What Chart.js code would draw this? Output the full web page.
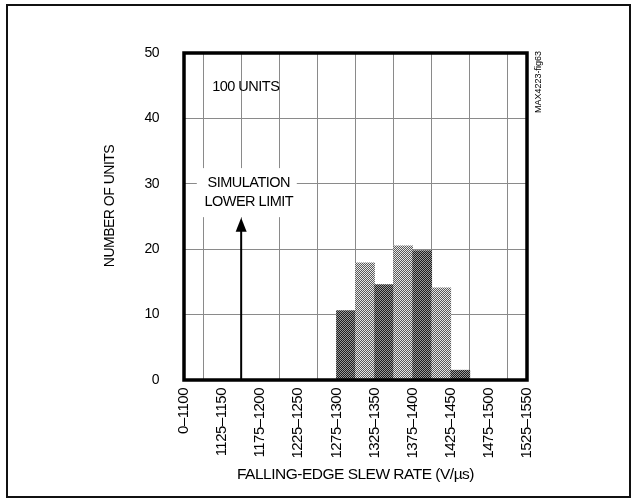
<!DOCTYPE html>
<html>
<head>
<meta charset="utf-8">
<script src="https://cdn.jsdelivr.net/npm/chart.js@4"></script>
<style>
  html, body { margin: 0; padding: 0; background: #fff; }
  #wrap { width: 637px; height: 501px; position: relative; }
</style>
</head>
<body>
<div id="wrap"><canvas id="slewChart" width="637" height="501"></canvas></div>
<script>
// x axis positions (V/us) where grid lines / tick labels sit
const tickValues = [1100, 1150, 1200, 1250, 1300, 1350, 1400, 1450, 1500, 1550];
const tickLabels = ['0–1100', '1125–1150', '1175–1200', '1225–1250', '1275–1300',
                    '1325–1350', '1375–1400', '1425–1450', '1475–1500', '1525–1550'];
// histogram bins (V/us) and number of units per bin
const binLow  = [1300, 1325, 1350, 1375, 1400, 1425, 1450];
const binHigh = [1325, 1350, 1375, 1400, 1425, 1450, 1475];
const unitCounts = [10.6, 17.9, 14.6, 20.5, 19.8, 14.1, 1.5];
const simLowerLimit = 1175;
const yTicks = [0, 10, 20, 30, 40, 50];

const FONT = "'Liberation Sans', Arial, sans-serif";

function makePattern(c1, c2) {
    const p = document.createElement('canvas');
    p.width = 2; p.height = 2;
    const g = p.getContext('2d');
    g.fillStyle = c1; g.fillRect(0, 0, 2, 2);
    g.fillStyle = c2; g.fillRect(0, 0, 1, 1); g.fillRect(1, 1, 1, 1);
    return g.createPattern(p, 'repeat');
}
const darkFill = makePattern('#1e1e1e', '#9a9a9a');
const lightFill = makePattern('#5a5a5a', '#e8e8e8');

const annotations = {
    id: 'annotations',
    beforeDraw(chart) {
        // the original lettering is set tight
        chart.ctx.letterSpacing = '-0.5px';
    },
    afterDatasetsDraw(chart) {
        const { ctx, chartArea: a, scales: { x, y } } = chart;
        ctx.save();
        ctx.letterSpacing = '-0.5px';
        ctx.textAlign = 'center';
        ctx.textBaseline = 'middle';
        // simulation lower limit label box
        const cx = x.getPixelForValue(1185);
        ctx.fillStyle = '#fff';
        ctx.fillRect(cx - 52, y.getPixelForValue(32.4), 100, y.getPixelForValue(24.9) - y.getPixelForValue(32.4));
        ctx.fillStyle = '#000';
        ctx.font = '14.5px ' + FONT;
        ctx.fillText('SIMULATION', cx, y.getPixelForValue(30.1));
        ctx.fillText('LOWER LIMIT', cx, y.getPixelForValue(27.2));
        ctx.fillText('100 UNITS', x.getPixelForValue(1181), y.getPixelForValue(44.8));
        // arrow
        const ax = x.getPixelForValue(simLowerLimit);
        const tip = y.getPixelForValue(24.8);
        ctx.strokeStyle = '#000';
        ctx.lineWidth = 2;
        ctx.beginPath();
        ctx.moveTo(ax, y.getPixelForValue(0));
        ctx.lineTo(ax, tip + 10);
        ctx.stroke();
        ctx.beginPath();
        ctx.moveTo(ax, tip);
        ctx.lineTo(ax - 5.5, tip + 14);
        ctx.lineTo(ax + 5.5, tip + 14);
        ctx.closePath();
        ctx.fill();
        // plot frame
        ctx.lineWidth = 3.5;
        ctx.strokeRect(a.left, a.top, a.right - a.left, a.bottom - a.top);
        // y axis title
        ctx.save();
        ctx.font = '14px ' + FONT;
        ctx.translate(110, 206);
        ctx.rotate(-Math.PI / 2);
        ctx.fillText('NUMBER OF UNITS', 0, 0);
        ctx.restore();
        // figure id
        ctx.save();
        ctx.letterSpacing = '0px';
        ctx.font = '9px ' + FONT;
        ctx.translate(a.right + 12, a.top - 2);
        ctx.rotate(-Math.PI / 2);
        ctx.textAlign = 'right';
        ctx.fillText('MAX4223-fig63', 0, 0);
        ctx.restore();
        // outer frame
        ctx.lineWidth = 2;
        ctx.strokeStyle = '#111';
        ctx.strokeRect(7, 5, 623, 492);
        ctx.restore();
    }
};

new Chart(document.getElementById('slewChart'), {
    type: 'bar',
    data: {
        datasets: [{
            data: unitCounts.map((v, i) => ({ x: (binLow[i] + binHigh[i]) / 2, y: v })),
            backgroundColor: unitCounts.map((v, i) => i % 2 === 0 ? darkFill : lightFill),
            borderWidth: 0,
            barPercentage: 1,
            categoryPercentage: 1
        }]
    },
    options: {
        responsive: false,
        animation: false,
        events: [],
        layout: { padding: { top: 53, right: 110, left: 0, bottom: 0 } },
        plugins: { legend: { display: false }, tooltip: { enabled: false } },
        scales: {
            x: {
                type: 'linear',
                offset: false,
                min: tickValues[0],
                max: tickValues[tickValues.length - 1],
                afterBuildTicks: s => { s.ticks = tickValues.map(v => ({ value: v })); },
                afterFit: s => { s.height = 121; },
                grid: { color: '#8a8a8a', lineWidth: 1, drawTicks: false },
                border: { display: false },
                ticks: {
                    autoSkip: false,
                    minRotation: 90,
                    maxRotation: 90,
                    padding: 8,
                    color: '#000',
                    font: { family: FONT, size: 15 },
                    callback: (v, i) => tickLabels[i]
                },
                title: {
                    display: true,
                    text: 'FALLING-EDGE SLEW RATE (V/µs)',
                    color: '#000',
                    font: { family: FONT, size: 15.5 },
                    padding: { top: 0, bottom: 17 }
                }
            },
            y: {
                min: yTicks[0],
                max: yTicks[yTicks.length - 1],
                afterBuildTicks: s => { s.ticks = yTicks.map(v => ({ value: v })); },
                afterFit: s => { s.width = 184; },
                grid: { color: '#8a8a8a', lineWidth: 1, drawTicks: false },
                border: { display: false },
                ticks: {
                    padding: 25,
                    color: '#000',
                    font: { family: FONT, size: 14 }
                }
            }
        }
    },
    plugins: [annotations]
});
</script>
</body>
</html>
